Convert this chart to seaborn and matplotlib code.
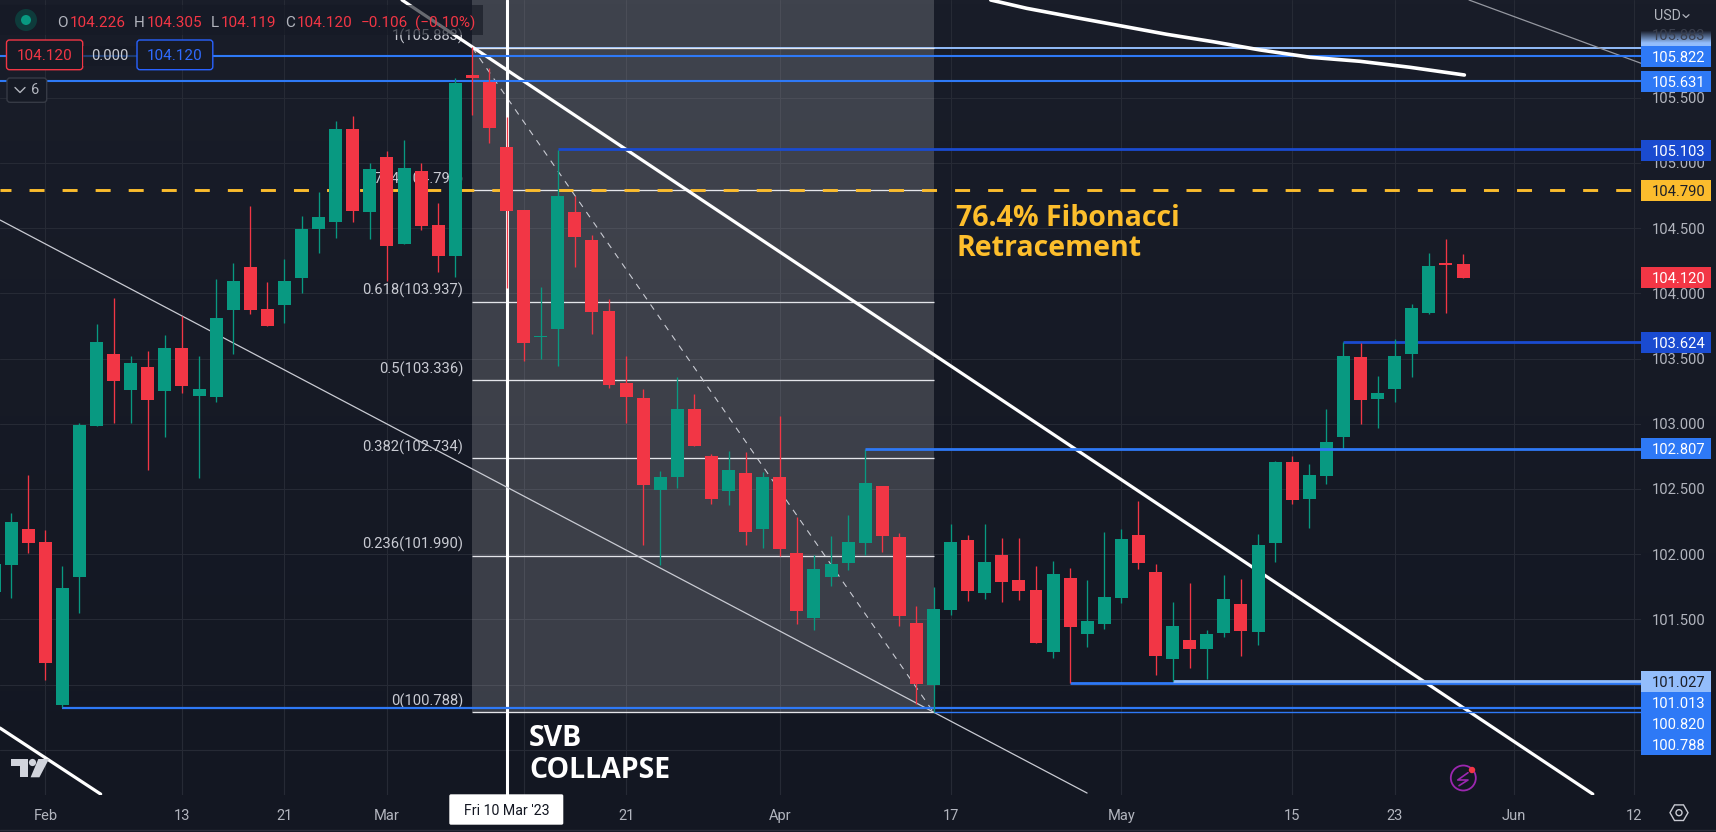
import numpy as np
import pandas as pd
import matplotlib
matplotlib.use("Agg")
import matplotlib.pyplot as plt
from matplotlib.colors import LinearSegmentedColormap
from matplotlib.patches import Circle, FancyBboxPatch, Polygon, Rectangle
import seaborn as sns

# Candles, one per trading day, bar 0 is Fri 10 Mar '23
bars = list(range(-30, 57))
opens = [101.710, 101.917, 102.193, 102.094, 100.844, 101.825, 102.983, 103.535, 103.259, 103.435,
         103.251, 103.581, 103.213, 103.205, 103.872, 104.202, 103.880, 103.911, 104.118, 104.493,
         104.547, 105.260, 104.624, 105.045, 104.378, 104.938, 104.524, 104.286, 105.674, 105.620,
         105.122, 104.639, 103.665, 103.727, 104.624, 104.409, 103.865, 103.313, 103.198, 102.492,
         102.592, 103.113, 102.753, 102.485, 102.623, 102.193, 102.592, 102.009, 101.511, 101.825,
         101.933, 102.086, 102.523, 102.132, 101.473, 100.997, 101.572, 102.109, 101.703, 101.994,
         101.802, 101.725, 101.250, 101.817, 101.388, 101.465, 101.664, 102.147, 101.864, 101.196,
         101.342, 101.273, 101.396, 101.618, 101.404, 102.086, 102.707, 102.423, 102.600, 102.899,
         103.512, 103.190, 103.267, 103.535, 103.849, 104.233, 104.226]
highs = [101.960, 102.316, 102.607, 102.185, 101.909, 103.006, 103.765, 103.964, 103.520, 103.558,
         103.681, 103.826, 103.520, 104.110, 104.233, 104.670, 104.087, 104.263, 104.593, 104.777,
         105.321, 105.360, 104.999, 105.091, 105.176, 104.999, 104.693, 105.651, 105.889, 105.728,
         105.352, 104.639, 104.049, 105.099, 104.746, 104.447, 103.957, 103.520, 103.267, 102.638,
         103.359, 103.228, 102.768, 102.791, 102.784, 102.630, 103.060, 102.285, 101.994, 102.140,
         102.301, 102.807, 102.523, 102.163, 101.603, 101.749, 102.232, 102.147, 102.232, 102.124,
         102.124, 101.909, 101.948, 101.894, 101.802, 102.170, 102.193, 102.408, 101.925, 101.634,
         101.779, 101.419, 101.840, 101.810, 102.155, 102.715, 102.753, 102.692, 103.113, 103.627,
         103.619, 103.366, 103.650, 103.918, 104.309, 104.417, 104.305]
lows = [101.700, 101.664, 102.009, 101.035, 100.828, 101.549, 102.983, 103.006, 103.006, 102.646,
        102.899, 103.236, 102.584, 103.167, 103.535, 103.842, 103.750, 103.773, 104.003, 104.309,
        104.424, 104.547, 104.417, 104.095, 104.378, 104.486, 104.164, 104.125, 105.367, 105.153,
        104.041, 103.481, 103.497, 103.443, 104.202, 103.688, 103.274, 103.006, 102.071, 101.917,
        102.508, 102.830, 102.385, 102.377, 102.071, 102.048, 101.986, 101.465, 101.419, 101.756,
        101.879, 101.994, 102.017, 101.450, 100.852, 100.788, 101.534, 101.641, 101.657, 101.634,
        101.649, 101.319, 101.204, 101.013, 101.289, 101.427, 101.626, 101.887, 101.074, 101.028,
        101.127, 101.043, 101.365, 101.219, 101.304, 101.940, 102.385, 102.201, 102.538, 102.807,
        102.998, 102.968, 103.167, 103.359, 103.842, 103.849, 104.119]
closes = [101.925, 102.247, 102.086, 101.166, 101.741, 102.991, 103.627, 103.328, 103.466, 103.182,
          103.581, 103.290, 103.267, 103.811, 104.095, 103.872, 103.750, 104.095, 104.493, 104.585,
          105.260, 104.631, 104.953, 104.363, 104.961, 104.516, 104.286, 105.613, 105.651, 105.268,
          104.631, 103.619, 103.673, 104.746, 104.432, 103.857, 103.297, 103.205, 102.531, 102.592,
          103.113, 102.830, 102.423, 102.646, 102.170, 102.592, 102.040, 101.565, 101.887, 101.925,
          102.094, 102.546, 102.140, 101.526, 101.005, 101.580, 102.094, 101.718, 101.940, 101.787,
          101.718, 101.319, 101.848, 101.442, 101.488, 101.672, 102.117, 101.933, 101.219, 101.450,
          101.273, 101.388, 101.657, 101.411, 102.071, 102.707, 102.415, 102.607, 102.860, 103.520,
          103.182, 103.236, 103.520, 103.888, 104.210, 104.217, 104.120]

# Time axis, the label under the date tag is not shown
date_bars = [-27, -19, -13, -7, 1, 7, 16, 26, 36, 46, 52, 59, 66]
date_labels = ["Feb", "13", "21", "Mar", "", "21", "Apr", "17", "May", "15", "23", "Jun", "12"]

# Price axis, the two labels under the flags are not shown
price_ticks = [100.5, 101.0, 101.5, 102.0, 102.5, 103.0, 103.5, 104.0, 104.5, 105.0, 105.5]
price_labels = ["", "", "101.500", "102.000", "102.500", "103.000", "103.500", "104.000", "104.500",
                "105.000", "105.500"]

# Fibonacci tool
fib_start, fib_end = -2, 25
fib_ratios = ["1", "0.764", "0.618", "0.5", "0.382", "0.236", "0"]
fib_prices = [105.883, 104.790, 103.937, 103.336, 102.734, 101.990, 100.788]

# Horizontal levels (start bar, price)
level_starts = [-30, -30, 3, 21, 49, 33, 39, -26, 25]
level_prices = [105.822, 105.631, 105.103, 102.807, 103.624, 101.013, 101.027, 100.820, 100.788]

# Trend lines as (bar, price) points
main_trend_bars = [-6.12, 63.6]
main_trend_prices = [106.249, 100.161]
corner_trend_bars = [-29.65, -23.76]
corner_trend_prices = [100.667, 100.161]
thin_trend_bars = [-29.65, 33.99]
thin_trend_prices = [104.562, 100.169]
upper_trend_bars = [56.35, 66.42]
upper_trend_prices = [106.249, 105.764]
curve_bars = [28.35, 30.46, 33.38, 35.92, 38.65, 41.38, 44.12, 47.04, 49.97, 52.9, 56.08]
curve_prices = [106.249, 106.185, 106.113, 106.052, 105.986, 105.929, 105.866, 105.810, 105.779,
                105.733, 105.674]

# Flags on the price axis, with where each one sits after the overlaps are pushed apart
flag_labels = ["105.822", "105.631", "105.103", "104.790", "104.120", "103.624", "102.807",
               "101.027", "101.013", "100.820", "100.788"]
flag_spots = [105.814, 105.623, 105.097, 104.790, 104.118, 103.623, 102.807,
              101.022, 100.861, 100.700, 100.539]

BG = "#161a25"
GRID = "#262a35"
GREEN = "#089981"
RED = "#f23645"
BLUE = "#2e79f6"
DARK_BLUE = "#1a4bd0"
LIGHT_BLUE = "#93bdfb"
YELLOW = "#fbbc2d"
GREY = "#b2b5be"
LIGHT = "#c9cbd3"
WHITE = "#ffffff"

sns.set_theme(style="dark", rc={"lines.scale_dashes": False, "figure.facecolor": BG,
                                "axes.facecolor": BG, "axes.edgecolor": BG,
                                "grid.color": GRID, "grid.linewidth": 0.8})
plt.rcParams["font.family"] = ["Roboto", "DejaVu Sans"]

W, H = 1716, 832
PLOT_W, PLOT_H = 1641, 795
fig = plt.figure(figsize=(W / 100, H / 100), dpi=100)

# The chart background gets a little darker towards the bottom
back = fig.add_axes([0, 0, 1, 1])
back.set_zorder(0)
back.axis("off")
back_map = LinearSegmentedColormap.from_list("back", ["#191d29", "#131722"])
back.imshow(np.linspace(0, 1, 200).reshape(-1, 1), cmap=back_map, aspect="auto")

ax = fig.add_axes([0, 1 - PLOT_H / H, PLOT_W / W, PLOT_H / H])
ax.set_zorder(1)
ax.set_facecolor("none")

#=================================#
# Candles
#=================================#
candles = pd.DataFrame({"bar": bars, "open": opens, "high": highs, "low": lows, "close": closes})
candles["bottom"] = candles[["open", "close"]].min(axis=1)
candles["body"] = (candles["close"] - candles["open"]).abs()
rising = candles[candles["close"] >= candles["open"]]
falling = candles[candles["close"] < candles["open"]]

for part, color in [(rising, GREEN), (falling, RED)]:
    ax.vlines(part["bar"], part["low"], part["high"], colors=color, linewidth=0.95, zorder=3.4)
    sns.barplot(data=part, x="bar", y="body", bottom=part["bottom"].values, native_scale=True,
                color=color, saturation=1, width=0.76, errorbar=None, linewidth=0, zorder=3.5, ax=ax)

ax.set_xlim(-29.654, 66.42)
ax.set_ylim(100.154, 106.249)
ax.set_xlabel("")
ax.set_ylabel("")
for side in ax.spines.values():
    side.set_visible(False)

ax.set_xticks(date_bars, date_labels)
ax.set_yticks(price_ticks, price_labels)
ax.yaxis.tick_right()
ax.tick_params(axis="x", length=0, pad=10, labelcolor=GREY, labelsize=10.5)
ax.tick_params(axis="y", length=0, pad=8, labelcolor=GREY, labelsize=10.6)
ax.grid(True, color=GRID, linewidth=0.8)
ax.set_axisbelow(True)

#=================================#
# Fibonacci tool
#=================================#
ax.add_patch(Rectangle((fib_start, fib_prices[-1]), fib_end - fib_start, 106.249 - fib_prices[-1],
                       facecolor=WHITE, alpha=0.17, linewidth=0, zorder=1))
ax.hlines(fib_prices, fib_start, fib_end, colors="#e4e5ea", linewidth=0.95, zorder=1.5)
for ratio, price in zip(fib_ratios, fib_prices):
    ax.annotate(f"{ratio}({price:.3f})", (fib_start, price), xytext=(-6.5, 8),
                textcoords="offset points", ha="right", va="center", color=LIGHT,
                fontsize=10.6, zorder=1.6)
ax.plot([fib_start, fib_end], [fib_prices[0], fib_prices[-1]], color=LIGHT, linewidth=0.8,
        linestyle=(0, (4.5, 4.5)), zorder=1.6)

#=================================#
# Levels and trend lines
#=================================#
ax.axhline(fib_prices[1], color=YELLOW, linewidth=2.1, linestyle=(2.9, (10.8, 13)), zorder=1.8)
ax.axvline(0, color=WHITE, linewidth=2.2, zorder=2)

level_styles = [(BLUE, 1.5, 3), (BLUE, 1.5, 3), (DARK_BLUE, 2.0, 3), (BLUE, 2.0, 4), (DARK_BLUE, 2.0, 3),
                (BLUE, 2.0, 3), (LIGHT_BLUE, 2.0, 3.1), (BLUE, 1.6, 3), (BLUE, 1.0, 3)]
for start, price, (color, width, z) in zip(level_starts, level_prices, level_styles):
    ax.hlines(price, start, 66.42, colors=color, linewidth=width, zorder=z)
ax.hlines(fib_prices[0], fib_start, 66.42, colors=LIGHT_BLUE, linewidth=1.4, zorder=1.4)

ax.plot(main_trend_bars, main_trend_prices, color=WHITE, linewidth=2.3, zorder=2.5)
ax.plot(corner_trend_bars, corner_trend_prices, color=WHITE, linewidth=2.3, zorder=2.5)
ax.plot(curve_bars, curve_prices, color=WHITE, linewidth=2.6, solid_capstyle="round", zorder=3.6)
ax.plot(thin_trend_bars, thin_trend_prices, color=LIGHT, linewidth=0.9, zorder=2.2)
ax.plot(upper_trend_bars, upper_trend_prices, color="#9598a1", linewidth=0.9, zorder=2.2)

#=================================#
# Price flags
#=================================#
price_ax = fig.add_axes([PLOT_W / W, 1 - PLOT_H / H, 70 / W, PLOT_H / H])
price_ax.set_zorder(2)
price_ax.set_facecolor("none")
price_ax.axis("off")
price_ax.set_xlim(0, 70)
price_ax.set_ylim(ax.get_ylim())
flag_h = 21 / 130.43

fade = np.ones((40, 1, 4))
fade[:, 0, :3] = matplotlib.colors.to_rgb(LIGHT_BLUE)
fade[:, 0, 3] = np.clip((np.arange(40) - 8) / 22, 0, 1)
price_ax.imshow(fade, extent=(0, 70, 105.883, 105.883 + flag_h), aspect="auto", zorder=1)
price_ax.set_xlim(0, 70)
price_ax.set_ylim(ax.get_ylim())
price_ax.text(10.7, 105.973, "105.883", color="#3a3f4d", fontsize=10.6, va="center", zorder=2)

flag_styles = [(BLUE, WHITE), (BLUE, WHITE), (DARK_BLUE, WHITE), (YELLOW, "#1b1e28"), (RED, WHITE),
               (DARK_BLUE, WHITE), (BLUE, WHITE), (LIGHT_BLUE, "#1b1e28"), (BLUE, WHITE), (BLUE, WHITE),
               (BLUE, WHITE)]
for label, spot, (fill, ink) in zip(flag_labels, flag_spots, flag_styles):
    price_ax.add_patch(Rectangle((0, spot - flag_h / 2), 70, flag_h, facecolor=fill, linewidth=0, zorder=3))
    price_ax.text(10.7, spot, label, color=ink, fontsize=10.6, va="center_baseline", zorder=4)

#=================================#
# Everything else, in picture pixels
#=================================#
top = fig.add_axes([0, 0, 1, 1])
top.set_zorder(3)
top.set_facecolor("none")
top.axis("off")
top.set_xlim(0, W)
top.set_ylim(H, 0)

# Legend strip
top.add_patch(Rectangle((0, 5), 483, 30, facecolor=BG, alpha=0.65, linewidth=0))
top.add_patch(Circle((26, 20), 11, facecolor="#0e3b3b", linewidth=0))
top.add_patch(Circle((26, 20), 5, facecolor=GREEN, linewidth=0))
legend_bits = [(57, "O", GREY), (70, "104.226", RED), (134, "H", GREY), (147, "104.305", RED),
               (211, "L", GREY), (221, "104.119", RED), (285, "C", GREY), (297, "104.120", RED),
               (361, "\u22120.106", RED), (415, "(\u22120.10%)", RED)]
for x, bit, color in legend_bits:
    top.text(x, 23, bit, color=color, fontsize=11, va="center")

def box(x0, y0, x1, y1, edge, radius=3, fill=BG):
    top.add_patch(FancyBboxPatch((x0 + radius, y0 + radius), x1 - x0 - 2 * radius, y1 - y0 - 2 * radius,
                                 boxstyle=f"round,pad={radius}", facecolor=fill, edgecolor=edge, linewidth=1))

box(6.5, 40, 82.7, 69.7, RED)
top.text(44.6, 55.5, "104.120", color=RED, fontsize=11, ha="center", va="center")
top.add_patch(Rectangle((82.7, 46), 54, 20, facecolor=BG, alpha=0.65, linewidth=0))
top.text(109.7, 55.5, "0.000", color=LIGHT, fontsize=10.6, ha="center", va="center")
box(137, 40, 212.8, 69.7, "#2962ff")
top.text(175, 55.5, "104.120", color="#2f6bff", fontsize=11, ha="center", va="center")
box(7, 78, 46.7, 102.3, "#363a45")
top.plot([15, 20, 25], [87.5, 92.5, 87.5], color=GREY, linewidth=1)
top.text(31, 90, "6", color=GREY, fontsize=10.5, va="center")

# Notes on the chart
for y, line in [(219, "76.4% Fibonacci"), (249, "Retracement")]:
    top.text(956.5, y, line, color="#fdbe2c", fontsize=20.5, fontfamily="Open Sans", fontweight="bold",
             va="center")
for y, line in [(738, "SVB"), (771, "COLLAPSE")]:
    top.text(529, y, line, color=WHITE, fontsize=20.5, fontfamily="Open Sans", fontweight="bold",
             va="center")

# Date tag
box(450, 795, 562.6, 824, WHITE, radius=1, fill=WHITE)
top.text(506.5, 811, "Fri 10 Mar '23", color="#131722", fontsize=10.2, ha="center", va="center")

# Price axis corner and currency
top.text(1653.7, 16.5, "USD", color=GREY, fontsize=10.3, va="center")
top.plot([1683, 1686, 1689], [14.7, 17.5, 14.7], color=GREY, linewidth=0.9)

# Chart logo
for shape in [[(10.7, 759), (27.6, 759), (27.6, 777.3), (19.9, 777.3), (19.9, 765.7), (10.7, 765.7)],
              [(38.3, 759), (49, 759), (39.4, 777.3), (30.6, 777.3)]]:
    top.add_patch(Polygon(shape, facecolor="#d1d4dc", linewidth=0))
top.add_patch(Circle((32.5, 762.5), 3.6, facecolor="#d1d4dc", linewidth=0))

# Lightning badge
top.add_patch(Circle((1463.3, 778), 12.5, facecolor="none", edgecolor="#9c27b0", linewidth=1.3))
top.plot([1468, 1457.7, 1468, 1459], [772.7, 780, 780, 785.7], color="#9c27b0", linewidth=1.2)
top.add_patch(Circle((1472, 770), 3.2, facecolor=RED, linewidth=0, zorder=5))

# Settings button
angles = np.radians(np.arange(0, 360, 60))
top.add_patch(Polygon(np.c_[1679 + 9 * np.cos(angles), 812.7 + 9 * np.sin(angles)], fill=False,
                      edgecolor=LIGHT, linewidth=1))
top.add_patch(Circle((1679, 812.7), 3, facecolor="none", edgecolor=LIGHT, linewidth=1))

top.plot([0, W], [830, 830], color="#2a2e39", linewidth=1)

fig.savefig("out.png", dpi=100, facecolor=BG)
